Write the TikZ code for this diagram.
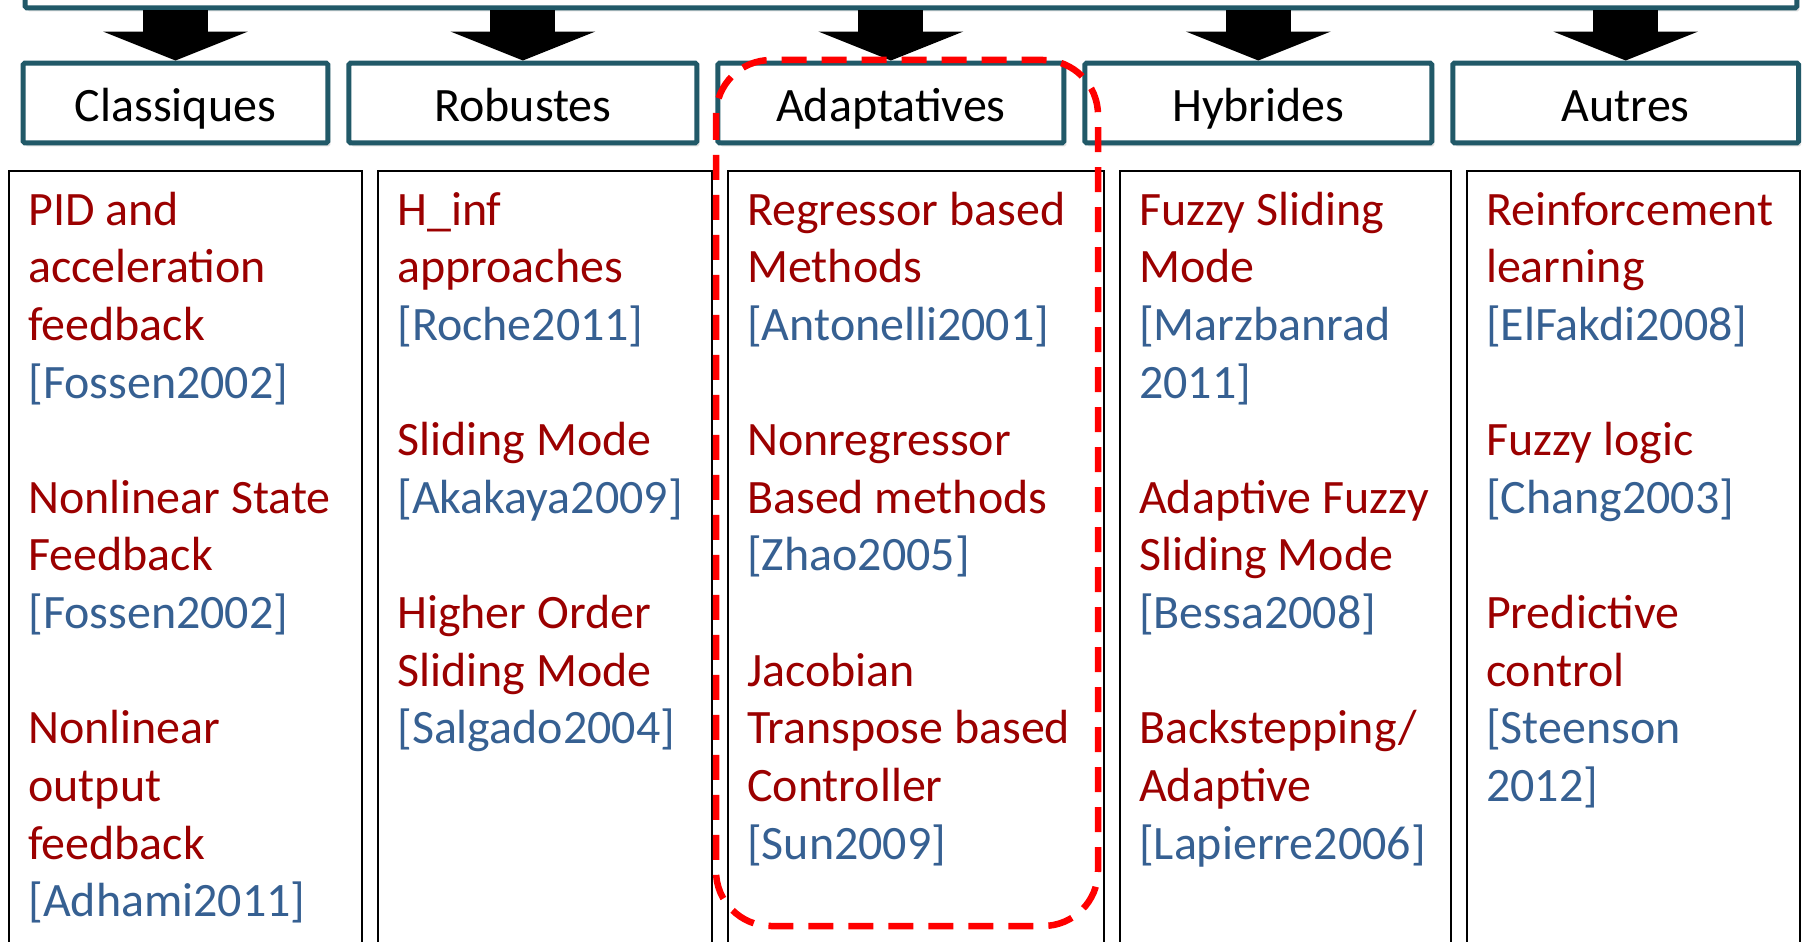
\documentclass[tikz,border=0pt]{standalone}
\usepackage{fontspec}
\setmainfont{Carlito}
\usetikzlibrary{arrows.meta,positioning,chains,shadows}
\definecolor{headteal}{RGB}{33,89,104}
\definecolor{methred}{RGB}{155,0,0}
\definecolor{refblue}{RGB}{54,96,146}
\newcommand{\citeref}[1]{\textcolor{refblue}{[#1]}}
\newcommand{\topstrut}{\rule{0pt}{0.8em}}

\begin{document}
\begin{tikzpicture}
      [x=0.02cm, y=-0.02cm,
        big/.style={font=\fontsize{27.3}{32.8}\selectfont},
        banner/.style={
          draw=headteal, line width=0.1cm,
          fill=white, rounded corners=1pt,
          drop shadow={opacity=0.25, shadow xshift=0.05cm, shadow yshift=-0.07cm}},
        category/.style={
          banner, big,
          minimum height=1.6cm,
          text height=25.8pt, text depth=4.8pt,
          inner sep=0pt,
          on chain},
        column/.style={draw=black, line width=0.04cm, minimum height=16cm, inner sep=0pt, on chain},
        methods/.style={big, text=methred, align=left, inner sep=0pt, anchor=north west},
        bigarrow/.style={line width=1.3cm,
          -{Triangle[length=0.58cm 0 0, width=2.9cm 0 0, line width=0pt 0 0]}},
        focus/.style={draw=red, line width=0.13cm, dash pattern=on 0.5cm off 0.3cm, rounded corners=1.1cm}]
      \useasboundingbox (0,0) rectangle (1808,942);
      \clip (0,0) rectangle (1808,942);

      \node[banner, minimum width=35.44cm, minimum height=1.56cm] (bar) at (911,-31) {};

      \begin{scope}[start chain=heads going right, node distance=0.32cm]
        \node[category, minimum width=6.1cm] (classiques) at (175.5,103) {Classiques};
        \node[category, minimum width=6.96cm] (robustes) {Robustes};
        \node[category, minimum width=6.92cm] (adaptatives) {Adaptatives};
        \node[category, minimum width=6.94cm] (hybrides) {Hybrides};
        \node[category, minimum width=6.92cm] (autres) {Autres};
      \end{scope}

      \begin{scope}[start chain=cols going right, node distance=0.28cm]
        \node[column, minimum width=7.06cm, anchor=north west] (boxclassiques) at (8,170) {};
        \node[column, minimum width=6.68cm] (boxrobustes) {};
        \node[column, minimum width=7.52cm] (boxadaptatives) {};
        \node[column, minimum width=6.62cm] (boxhybrides) {};
        \node[column, minimum width=6.66cm] (boxautres) {};
      \end{scope}

      \foreach \cat in {classiques,robustes,adaptatives,hybrides,autres}
        \draw[bigarrow] (bar.south -| \cat.north) -- (\cat.north);

      \node[methods, below right=0.33cm and 0.4cm of boxclassiques.north west] (txtclassiques)
        {\topstrut PID and\\acceleration\\feedback\\\citeref{Fossen2002}\\[32.8pt]
         Nonlinear State\\Feedback\\\citeref{Fossen2002}\\[32.8pt]
         Nonlinear\\output\\feedback\\\citeref{Adhami2011}};
      \node[methods, below right=0.33cm and 0.4cm of boxrobustes.north west] (txtrobustes)
        {\topstrut H\_inf\\approaches\\\citeref{Roche2011}\\[32.8pt]
         Sliding Mode\\\citeref{Akakaya2009}\\[32.8pt]
         Higher Order\\Sliding Mode\\\citeref{Salgado2004}};
      \node[methods, below right=0.33cm and 0.4cm of boxadaptatives.north west] (txtadaptatives)
        {\topstrut Regressor based\\Methods\\\citeref{Antonelli2001}\\[32.8pt]
         Nonregressor\\Based methods\\\citeref{Zhao2005}\\[32.8pt]
         Jacobian\\Transpose based\\Controller\\\citeref{Sun2009}};
      \node[methods, below right=0.33cm and 0.4cm of boxhybrides.north west] (txthybrides)
        {\topstrut Fuzzy Sliding\\Mode\\\textcolor{refblue}{[Marzbanrad}\\\textcolor{refblue}{2011]}\\[32.8pt]
         Adaptive Fuzzy\\Sliding Mode\\\citeref{Bessa2008}\\[32.8pt]
         Backstepping/\\Adaptive\\\citeref{Lapierre2006}};
      \node[methods, below right=0.33cm and 0.4cm of boxautres.north west] (txtautres)
        {\topstrut Reinforcement\\learning\\\citeref{ElFakdi2008}\\[32.8pt]
         Fuzzy logic\\\citeref{Chang2003}\\[32.8pt]
         Predictive\\control\\\textcolor{refblue}{[Steenson}\\\textcolor{refblue}{2012]}};

      \draw[focus] (716,60) rectangle (1098,926);
    \end{tikzpicture}
\end{document}
